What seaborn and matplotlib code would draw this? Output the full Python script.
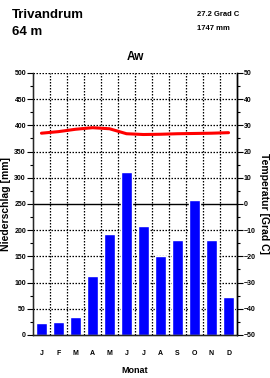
import seaborn as sns
import matplotlib.pyplot as plt
import pandas as pd
from matplotlib.ticker import MultipleLocator

# Climate data for Trivandrum
months = ["Jan", "Feb", "Mar", "Apr", "Mai", "Jun", "Jul", "Aug", "Sep", "Okt", "Nov", "Dez"]
month_letters = ["J", "F", "M", "A", "M", "J", "J", "A", "S", "O", "N", "D"]
precip = [22, 25, 35, 112, 193, 310, 207, 150, 182, 258, 181, 72]
temp = [27.0, 27.6, 28.5, 29.1, 28.7, 26.8, 26.5, 26.6, 26.8, 26.9, 27.0, 27.2]

station = "Trivandrum"
elevation = "64 m"
mean_temp = "27.2 Grad C"
total_precip = "1747 mm"
climate_class = "Aw"

df = pd.DataFrame({"Monat": months, "Niederschlag": precip,
                   "pos": range(12), "Temperatur": temp})

sns.set_style("white")
plt.rcParams["font.family"] = ["Liberation Sans", "DejaVu Sans"]
plt.rcParams["font.weight"] = "bold"
for key in ["text.color", "axes.labelcolor", "xtick.color", "ytick.color"]:
    plt.rcParams[key] = "black"

fig = plt.figure(figsize=(2.7, 3.78), dpi=100)
ax = fig.add_axes([0.122, 0.114, 0.756, 0.693])

sns.barplot(data=df, x="Monat", y="Niederschlag", order=months, color="#0000ff",
            saturation=1, width=0.68, ax=ax)
ax.set_xlim(-0.5, 11.5)
ax.set_ylim(0, 500)

# grid: dotted, with solid line at 0 deg C
for y in range(50, 501, 50):
    if y == 250:
        ax.axhline(y, color="black", lw=1, zorder=0.5)
    else:
        ax.axhline(y, color="black", lw=0.9, ls=(0, (1.2, 1.2)), zorder=0.5)
for x in range(11):
    ax.axvline(x + 0.5, color="black", lw=0.9, ls=(0, (1.2, 1.2)), zorder=0.5)

ax.spines["top"].set_visible(False)
for s in ["left", "right", "bottom"]:
    ax.spines[s].set_color("black")
    ax.spines[s].set_linewidth(1)

ax.yaxis.set_major_locator(MultipleLocator(50))
ax.yaxis.set_minor_locator(MultipleLocator(25))
ax.tick_params(axis="y", which="major", length=4, width=0.8, labelsize=5, pad=1, direction="out", left=True)
ax.tick_params(axis="y", which="minor", length=2, width=0.8, direction="out", left=True)
ax.set_xticks(range(12))
ax.set_xticklabels(month_letters)
ax.tick_params(axis="x", length=0, labelsize=5, pad=11)
ax.set_xlabel("Monat", fontsize=6.5, fontweight="bold", labelpad=6)
ax.set_ylabel("Niederschlag [mm]", fontsize=7.5, fontweight="bold", labelpad=2)

ax2 = ax.twinx()
sns.lineplot(data=df, x="pos", y="Temperatur", color="red", lw=2.2, ax=ax2)
ax2.set_ylim(-50, 50)
ax2.set_xlim(-0.5, 11.5)
ax2.spines["top"].set_visible(False)
ax2.spines["right"].set_color("black")
ax2.spines["right"].set_linewidth(1)
ax2.yaxis.set_major_locator(MultipleLocator(10))
ax2.yaxis.set_minor_locator(MultipleLocator(5))
ax2.tick_params(axis="y", which="major", length=4, width=0.8, labelsize=5, pad=1, direction="out", right=True)
ax2.tick_params(axis="y", which="minor", length=2, width=0.8, direction="out", right=True)
ax2.set_ylabel("Temperatur [Grad C]", fontsize=7.5, fontweight="bold", rotation=-90, labelpad=9)

fig.text(0.045, 0.975, station, fontsize=9.5, fontweight="bold", va="top")
fig.text(0.045, 0.93, elevation, fontsize=9.5, fontweight="bold", va="top")
fig.text(0.73, 0.972, mean_temp, fontsize=5.5, fontweight="bold", va="top")
fig.text(0.73, 0.935, total_precip, fontsize=5.5, fontweight="bold", va="top")
fig.text(0.5, 0.84, climate_class, fontsize=8.5, fontweight="bold", ha="center")

plt.savefig("out.png", dpi=100)
plt.close()
